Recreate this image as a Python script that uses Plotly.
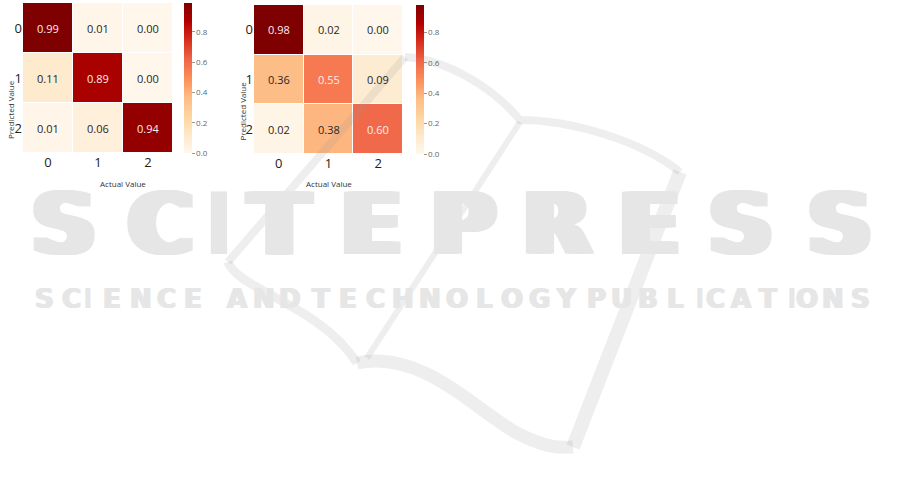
import plotly.graph_objects as go

W, H = 905, 484

# ---------------- data ----------------
classes = ["0", "1", "2"]
cm_left = [[0.99, 0.01, 0.00],
           [0.11, 0.89, 0.00],
           [0.01, 0.06, 0.94]]
cm_right = [[0.98, 0.02, 0.00],
            [0.36, 0.55, 0.09],
            [0.02, 0.38, 0.60]]
cbar_ticks = [0.0, 0.2, 0.4, 0.6, 0.8]
x_title = "Actual Value"
y_title = "Predicted Value"
wm_main = "SCITEPRESS"
wm_sub = ["SCIENCE", "AND", "TECHNOLOGY", "PUBLICATIONS"]

FONT = "Open Sans"


def px(x, y):
    return x / W, 1 - y / H


fig = go.Figure()

panels = [
    dict(z=cm_left, x0=23, x1=173, y0=3, y1=153, cb_x=184, xa="x", ya="y"),
    dict(z=cm_right, x0=254, x1=403, y0=5, y1=154, cb_x=416, xa="x2", ya="y2"),
]

annotations = []
for i, p in enumerate(panels):
    zmax = max(max(r) for r in p["z"])
    fig.add_trace(go.Heatmap(
        z=p["z"], x=[0, 1, 2], y=[0, 1, 2],
        colorscale="OrRd", zmin=0, zmax=zmax,
        xgap=1, ygap=1, hoverinfo="skip",
        xaxis=p["xa"], yaxis=p["ya"],
        colorbar=dict(
            x=p["cb_x"] / W, xanchor="left", xpad=0, ypad=0,
            y=1 - p["y0"] / H, yanchor="top",
            lenmode="pixels", len=p["y1"] - p["y0"],
            thickness=8, outlinewidth=0,
            tickvals=cbar_ticks, ticktext=[f"{t:.1f}" for t in cbar_ticks],
            ticks="outside", ticklen=3, tickcolor="#999", tickwidth=1,
            tickfont=dict(size=8, color="#666", family=FONT),
        ),
    ))
    xa_key = "xaxis" if i == 0 else "xaxis2"
    ya_key = "yaxis" if i == 0 else "yaxis2"
    fig.update_layout(**{
        xa_key: dict(domain=[p["x0"] / W, p["x1"] / W], anchor=p["ya"],
                     tickvals=[0, 1, 2], ticktext=classes, showgrid=False,
                     zeroline=False, ticks="", ticklen=0, automargin=False,
                     tickfont=dict(size=13, color="#222", family=FONT),
                     range=[-0.5, 2.5], showline=False),
        ya_key: dict(domain=[1 - p["y1"] / H, 1 - p["y0"] / H], anchor=p["xa"],
                     tickvals=[0, 1, 2], ticktext=classes, showgrid=False,
                     zeroline=False, ticks="", ticklen=0, automargin=False,
                     tickfont=dict(size=13, color="#222", family=FONT),
                     range=[2.5, -0.5], showline=False),
    })
    # cell annotations
    for r in range(3):
        for c in range(3):
            v = p["z"][r][c]
            annotations.append(dict(
                x=c, y=r, xref=p["xa"], yref=p["ya"], text=f"{v:.2f}",
                showarrow=False,
                font=dict(size=11, family=FONT,
                          color="#fbeeee" if v / zmax > 0.5 else "#262626"),
            ))
    cx, _ = px((p["x0"] + p["x1"]) / 2, 0)
    annotations.append(dict(x=cx, y=1 - 183 / H, xref="paper", yref="paper",
                            text=x_title, showarrow=False,
                            font=dict(size=8, color="#333", family=FONT)))
    _, cy = px(0, (p["y0"] + p["y1"]) / 2)
    annotations.append(dict(x=(p["x0"] - 20) / W, y=cy, xref="paper", yref="paper",
                            text=y_title, showarrow=False, textangle=-90,
                            font=dict(size=8, color="#333", family=FONT)))

# ---------------- watermark ----------------
WM_TEXT = "#e6e6e6"
WM_LINE = "rgba(150,150,150,0.16)"


def smear(dx_max, step):
    if dx_max == 0:
        return "none"
    return ", ".join(f"{dx}px 0px 0 {WM_TEXT}"
                     for dx in range(-dx_max, dx_max + 1, step) if dx != 0)


main_centers = [64, 160, 219, 279, 371, 463, 557, 649, 741, 840]
for ch, cxp in zip(wm_main, main_centers):
    annotations.append(dict(x=cxp / W, y=1 - 224 / H, xref="paper", yref="paper",
                            text=f"<b>{ch}</b>", showarrow=False,
                            xanchor="center", yanchor="middle",
                            font=dict(size=86, color=WM_TEXT,
                                      family="DejaVu Sans, Liberation Sans, sans-serif",
                                      weight="bold",
                                      shadow=smear(0 if ch == "I" else 6, 2))))

sub_extents = [(20, 195), (212, 290), (307, 580), (595, 885)]
narrow = {"I": 0.55}
for word, (a, b) in zip(wm_sub, sub_extents):
    wts = [narrow.get(ch, 1.0) for ch in word]
    tot = sum(wts)
    acc = 0.0
    for ch, wt in zip(word, wts):
        cxp = a + (acc + wt / 2) / tot * (b - a)
        acc += wt
        annotations.append(dict(x=cxp / W, y=1 - 299 / H, xref="paper", yref="paper",
                                text=f"<b>{ch}</b>", showarrow=False,
                                font=dict(size=26, color=WM_TEXT,
                                          family="DejaVu Sans, Liberation Sans, sans-serif",
                                          weight="bold",
                                          shadow=smear(0 if ch == "I" else 1, 1))))


def path(cmds):
    out = []
    for cmd, pts in cmds:
        coords = " ".join(f"{x / W:.5f},{1 - y / H:.5f}" for x, y in pts)
        out.append(f"{cmd} {coords}")
    return " ".join(out)


swoosh = [
    (path([("M", [(405, 57)]), ("L", [(228, 262)])]), 8),
    (path([("M", [(228, 262)]), ("C", [(238, 290), (320, 305), (357, 363)])]), 9),
    (path([("M", [(357, 363)]), ("C", [(420, 350), (470, 405), (515, 432)]),
           ("C", [(545, 448), (560, 448), (573, 447)])]), 13),
    (path([("M", [(573, 447)]), ("L", [(680, 172)])]), 14),
    (path([("M", [(405, 57)]), ("C", [(450, 60), (495, 90), (520, 120)]),
           ("C", [(570, 120), (640, 140), (680, 172)])]), 8),
    (path([("M", [(520, 122)]), ("L", [(367, 358)])]), 6),
]
shapes = [dict(type="path", xref="paper", yref="paper", path=pth,
               line=dict(color=WM_LINE, width=w), layer="above")
          for pth, w in swoosh]

fig.update_layout(
    width=W, height=H, margin=dict(l=0, r=0, t=0, b=0, autoexpand=False),
    paper_bgcolor="white", plot_bgcolor="white",
    annotations=annotations, shapes=shapes, showlegend=False,
    font=dict(family=FONT),
)

fig.write_html("out.html", config={"displayModeBar": False},
               post_script="document.body.style.margin='0';document.body.style.padding='0';")
